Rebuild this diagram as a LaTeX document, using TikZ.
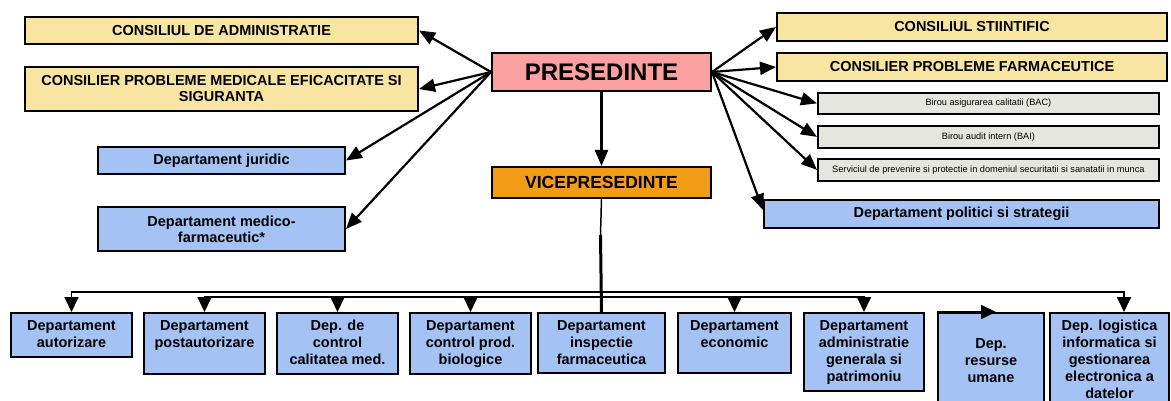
\documentclass[tikz,border=0pt]{standalone}
\usepackage{fontspec}
\setmainfont{Liberation Sans}
\usetikzlibrary{arrows.meta,calc}
\definecolor{cyel}{RGB}{248,229,162}
\definecolor{cpink}{RGB}{250,160,160}
\definecolor{corange}{RGB}{243,156,24}
\definecolor{cblue}{RGB}{164,194,244}
\definecolor{cgrey}{RGB}{230,230,224}
\tikzset{
  bx/.style={draw=black, line width=2pt, anchor=north west, inner sep=0pt, align=center,
    font=\fontsize{14.5}{16}\selectfont\bfseries},
  ybox/.style={bx, fill=cyel},
  bbox/.style={bx, fill=cblue},
  gbox/.style={bx, fill=cgrey, line width=1.8pt, font=\fontsize{9.2}{11}\selectfont},
  arr/.style={-{Triangle[length=16pt,width=13pt]}, line width=2.2pt},
  barr/.style={-{Triangle[length=15pt,width=14pt]}, line width=1.8pt},
  lbl/.style={anchor=north, align=center, inner sep=0pt,
    font=\fontsize{14.5}{17}\selectfont\bfseries},
}
\begin{document}
\begin{tikzpicture}[x=1pt,y=-1pt]
\useasboundingbox (0,0) rectangle (1171,401);
\fill[white] (0,0) rectangle (1171,401);
\clip (0,0) rectangle (1171,401);

% top left
\node[ybox, minimum width=393pt, minimum height=27pt] (cadm) at (24,16) {CONSILIUL DE ADMINISTRATIE};
\node[ybox, minimum width=393pt, minimum height=44pt] (cmed) at (24,66) {CONSILIER PROBLEME MEDICALE EFICACITATE SI\\SIGURANTA};
\node[bbox, minimum width=247pt, minimum height=27pt] (jur) at (97,146) {Departament juridic};
\node[bbox, minimum width=247pt, minimum height=44pt] (med) at (97,206) {Departament medico-\\farmaceutic*};

% centre
\node[bx, fill=cpink, minimum width=219pt, minimum height=38pt, font=\fontsize{24}{28}\selectfont\bfseries] (pres) at (491,52) {PRESEDINTE};
\node[bx, fill=corange, minimum width=219pt, minimum height=31pt, font=\fontsize{17.5}{20}\selectfont\bfseries] (vice) at (491,166) {VICEPRESEDINTE};

% top right
\node[ybox, minimum width=390pt, minimum height=28pt] (cst) at (776,12) {CONSILIUL STIINTIFIC};
\node[ybox, minimum width=390pt, minimum height=28pt] (cfa) at (776,52) {CONSILIER PROBLEME FARMACEUTICE};
\node[gbox, minimum width=341pt, minimum height=21pt] (bac) at (817,92) {Birou asigurarea calitatii (BAC)};
\node[gbox, minimum width=341pt, minimum height=22pt] (bai) at (817,125) {Birou audit intern (BAI)};
\node[gbox, minimum width=341pt, minimum height=22pt] (ser) at (817,158) {Serviciul de prevenire si protectie in domeniul securitatii si sanatatii in munca};
\node[bbox, minimum width=395pt, minimum height=28pt] (pol) at (763,199) {Departament politici si strategii};

% bottom row boxes
\node[bbox, minimum width=121pt, minimum height=44pt] (aut) at (10,312) {};
\node[bbox, minimum width=121pt, minimum height=61pt] (post) at (143,312) {};
\node[bbox, minimum width=121pt, minimum height=61pt] (ctl) at (276,312) {};
\node[bbox, minimum width=121pt, minimum height=61pt] (bio) at (409,312) {};
\node[bbox, minimum width=127pt, minimum height=60pt] (insp) at (537,312) {};
\node[bbox, minimum width=113pt, minimum height=60pt] (eco) at (677,312) {};
\node[bbox, minimum width=120pt, minimum height=78pt] (adm) at (803,312) {};
\node[bbox, minimum width=106pt, minimum height=110pt] (res) at (937,312) {};
\node[bbox, minimum width=119pt, minimum height=110pt] (log) at (1049,312) {};

\node[lbl] (autT) at ([yshift=-8pt]aut.north) {Departament\\autorizare};
\node[lbl] (postT) at ([yshift=-8pt]post.north) {Departament\\postautorizare};
\node[lbl] (ctlT) at ([yshift=-8pt]ctl.north) {Dep. de\\control\\calitatea med.};
\node[lbl] (bioT) at ([yshift=-8pt]bio.north) {Departament\\control prod.\\biologice};
\node[lbl] (inspT) at ([yshift=-8pt]insp.north) {Departament\\inspectie\\farmaceutica};
\node[lbl] (ecoT) at ([yshift=-8pt]eco.north) {Departament\\economic};
\node[lbl] (admT) at ([yshift=-8pt]adm.north) {Departament\\administratie\\generala si\\patrimoniu};
\node[lbl] (resT) at ([yshift=-26pt]res.north) {Dep.\\resurse\\umane};
\node[lbl] (logT) at ([yshift=-8pt]log.north) {Dep. logistica\\informatica si\\gestionarea\\electronica a\\datelor};

% arrows from PRESEDINTE
\draw[arr] (pres.west) -- (cadm.east);
\draw[arr] (pres.west) -- (cmed.east);
\draw[arr] (pres.west) -- (jur.east);
\draw[arr] (pres.west) -- (med.east);
\draw[arr] (pres.east) -- (cst.west);
\draw[arr] (pres.east) -- (cfa.west);
\draw[arr] (pres.east) -- (bac.west);
\draw[arr] (pres.east) -- (bai.west);
\draw[arr] (pres.east) -- (ser.west);
\draw[arr] (pres.east) -- ([yshift=4pt]pol.west);
\draw[arr] (pres.south) -- (vice.north);

% vertical trunk
\coordinate (vmid) at (600.5,235);
\draw[line width=1.5pt] (vice.south) -- (vmid);
\draw[line width=3pt] (vmid) -- (insp.north);

% buses
\coordinate (j1) at (600.5,292);
\coordinate (j2) at (600.5,297);
\coordinate (logtip) at (1124,312);
\coordinate (restip) at (996,312);
\draw[barr] (j1) -| (aut.north);
\draw[barr] (j1) -| (logtip);
\draw[barr] (j2) -| (post.north);
\draw[barr] (j2) -| (adm.north);
\draw[barr] (ctl.north |- j2) -- (ctl.north);
\draw[barr] (bio.north |- j2) -- (bio.north);
\draw[barr] (eco.north |- j2) -- (eco.north);
\draw[barr] (res.north west) -- (restip);
\end{tikzpicture}
\end{document}
